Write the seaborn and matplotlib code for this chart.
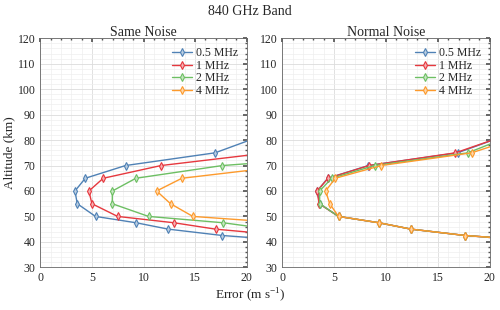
import numpy as np
import pandas as pd
import matplotlib
matplotlib.use("Agg")
import matplotlib.pyplot as plt
import matplotlib.colors as mcolors
from matplotlib.ticker import MultipleLocator
import seaborn as sns

altitudes = [40, 42.5, 45, 47.5, 50, 55, 60, 65, 70, 75, 80]
labels = ["0.5 MHz", "1 MHz", "2 MHz", "4 MHz"]

same_05 = [26.0, 17.65, 12.4, 9.3, 5.35, 3.58, 3.36, 4.36, 8.26, 16.94, 20.3]
same_1 = [35.0, 23.8, 16.98, 12.97, 7.49, 5.0, 4.71, 6.1, 11.7, 22.1, 30.0]
same_2 = [40.0, 30.0, 22.25, 17.75, 10.49, 6.97, 6.99, 9.26, 17.65, 34.4, 45.0]
same_4 = [45.0, 35.0, 30.0, 23.5, 14.78, 12.62, 11.27, 13.72, 24.2, 35.0, 45.0]

norm_05 = [26.0, 17.65, 12.42, 9.33, 5.42, 3.6, 3.38, 4.38, 8.3, 16.9, 20.3]
norm_1 = [26.0, 17.65, 12.42, 9.33, 5.42, 3.55, 3.35, 4.41, 8.36, 16.7, 20.25]
norm_2 = [26.0, 17.65, 12.42, 9.33, 5.42, 3.6, 3.6, 4.76, 8.9, 17.9, 21.0]
norm_4 = [26.0, 17.65, 12.42, 9.33, 5.42, 4.57, 4.18, 5.11, 9.55, 18.26, 22.0]

colors = ["#4f81b5", "#e6383e", "#6dbf63", "#fd9a2c"]


def make_df(series):
    rows = []
    for lab, vals in zip(labels, series):
        for a, v in zip(altitudes, vals):
            rows.append({"Altitude": a, "Error": v, "Band": lab})
    return pd.DataFrame(rows)


df_same = make_df([same_05, same_1, same_2, same_4])
df_norm = make_df([norm_05, norm_1, norm_2, norm_4])

sns.set_theme(style="white")
plt.rcParams["font.family"] = ["Liberation Serif", "DejaVu Serif"]
plt.rcParams["mathtext.fontset"] = "custom"
plt.rcParams["mathtext.rm"] = "Liberation Serif"

fig = plt.figure(figsize=(5.0, 3.1), dpi=100)
ax1 = fig.add_axes([0.0806, 0.1377, 0.4128, 0.7387])
ax2 = fig.add_axes([0.5646, 0.1377, 0.4148, 0.7387])


def light(c, f=0.6):
    r, g, b = mcolors.to_rgb(c)
    return (r + (1 - r) * f, g + (1 - g) * f, b + (1 - b) * f)


for ax, df, title in [(ax1, df_same, "Same Noise"), (ax2, df_norm, "Normal Noise")]:
    sns.lineplot(data=df, x="Error", y="Altitude", hue="Band", hue_order=labels,
                 palette=colors, orient="y", marker="d", markersize=4.2,
                 linewidth=1.0, ax=ax, legend=False, estimator=None)
    for i, line in enumerate(ax.get_lines()):
        c = colors[i]
        line.set_markerfacecolor(light(c))
        line.set_markeredgecolor(c)
        line.set_markeredgewidth(0.8)
        line.set_label(labels[i])
    ax.set_xlim(0, 20)
    ax.set_ylim(30, 120)
    ax.xaxis.set_major_locator(MultipleLocator(5))
    ax.xaxis.set_minor_locator(MultipleLocator(1))
    ax.yaxis.set_major_locator(MultipleLocator(10))
    ax.yaxis.set_minor_locator(MultipleLocator(2))
    ax.grid(True, which="major", color="#dcdcdc", linewidth=0.6)
    ax.grid(True, which="minor", color="#eeeeee", linewidth=0.5)
    ax.set_axisbelow(True)
    ax.tick_params(which="both", direction="in", top=True, right=True,
                   labelsize=8.5, color="#555555")
    ax.tick_params(which="major", length=3)
    ax.tick_params(which="minor", length=1.5)
    for s in ax.spines.values():
        s.set_color("#666666")
        s.set_linewidth(0.6)
    ax.set_title(title, fontsize=10, pad=2)
    ax.set_xlabel("")
    ax.set_ylabel("")
    ax.legend(loc="upper right", frameon=False, fontsize=8.5,
              handlelength=1.7, handletextpad=0.3, labelspacing=0.05,
              borderaxespad=0.35)

ax1.set_ylabel("Altitude (km)", fontsize=9.5, labelpad=2)
fig.text(0.5, 0.02, r"Error (m s$^{\mathregular{-1}}$)", ha="center", va="bottom", fontsize=9.5)
fig.text(0.5, 0.985, "840 GHz Band", ha="center", va="top", fontsize=10)

fig.savefig("out.png", dpi=100)
